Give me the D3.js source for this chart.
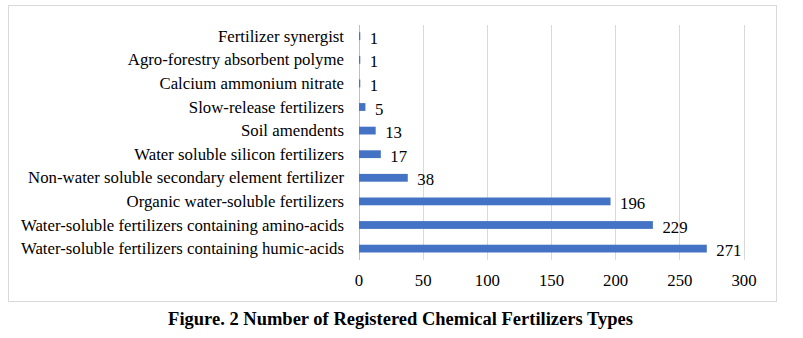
<!DOCTYPE html>
<html><head><meta charset="utf-8">
<script src="https://cdn.jsdelivr.net/npm/d3@7"></script>
<style>body{margin:0;background:#fff}svg{display:block}</style>
</head><body>
<svg id="c" width="803" height="338"></svg>
<script>
const categories = ["Fertilizer synergist","Agro-forestry absorbent polyme","Calcium ammonium nitrate","Slow-release fertilizers","Soil amendents","Water soluble silicon fertilizers","Non-water soluble secondary element fertilizer","Organic water-soluble fertilizers","Water-soluble fertilizers containing amino-acids","Water-soluble fertilizers containing humic-acids"];
const values = [1,1,1,5,13,17,38,196,229,271];
const ticks = [0,50,100,150,200,250,300];
const title = "Figure. 2 Number of Registered Chemical Fertilizers Types";

const svg = d3.select("#c");
const font = "Liberation Serif, Times New Roman, serif";
svg.append("rect").attr("x",8.5).attr("y",5.5).attr("width",768).attr("height",296)
  .attr("fill","#fff").attr("stroke","#d9d9d9");

const x = d3.scaleLinear().domain([0,300]).range([358.5,743.5]);
const y = d3.scaleBand().domain(categories).range([24.4,260.4]).paddingInner(0.67).paddingOuter(0.335);

const g = svg.append("g");
g.selectAll("line.grid").data(ticks).join("line").attr("class","grid")
  .attr("x1",d=>Math.round(x(d))+0.5).attr("x2",d=>Math.round(x(d))+0.5)
  .attr("y1",25).attr("y2",260).attr("stroke",d=>d===0?"#bfbfbf":"#d9d9d9").attr("stroke-width",1);

g.selectAll("rect.bar").data(values).join("rect").attr("class","bar")
  .attr("x",x(0)+0.5).attr("y",(d,i)=>y(categories[i]))
  .attr("width",d=>x(d)-x(0)).attr("height",y.bandwidth()).attr("fill","#4472c4");

g.selectAll("text.val").data(values).join("text").attr("class","val")
  .attr("x",d=>x(d)+10).attr("y",(d,i)=>y(categories[i])+y.bandwidth()/2+7.5)
  .attr("font-family",font).attr("font-size",16.8).attr("fill","#000").text(d=>d);

g.selectAll("text.cat").data(categories).join("text").attr("class","cat")
  .attr("x",344).attr("y",d=>y(d)+y.bandwidth()/2+5.5).attr("text-anchor","end")
  .attr("font-family",font).attr("font-size",16.8).attr("fill","#000").text(d=>d);

const ax = svg.append("g").attr("transform","translate(0,260)")
  .call(d3.axisBottom(x).tickValues(ticks).tickSize(0).tickPadding(14));
ax.select(".domain").remove();
ax.selectAll("text").attr("font-family",font).attr("font-size",16.8).attr("fill","#000");

svg.append("text").attr("x",400.5).attr("y",325).attr("text-anchor","middle")
  .attr("font-family",font).attr("font-size",18.5).attr("font-weight","bold").text(title);
</script>
</body></html>
